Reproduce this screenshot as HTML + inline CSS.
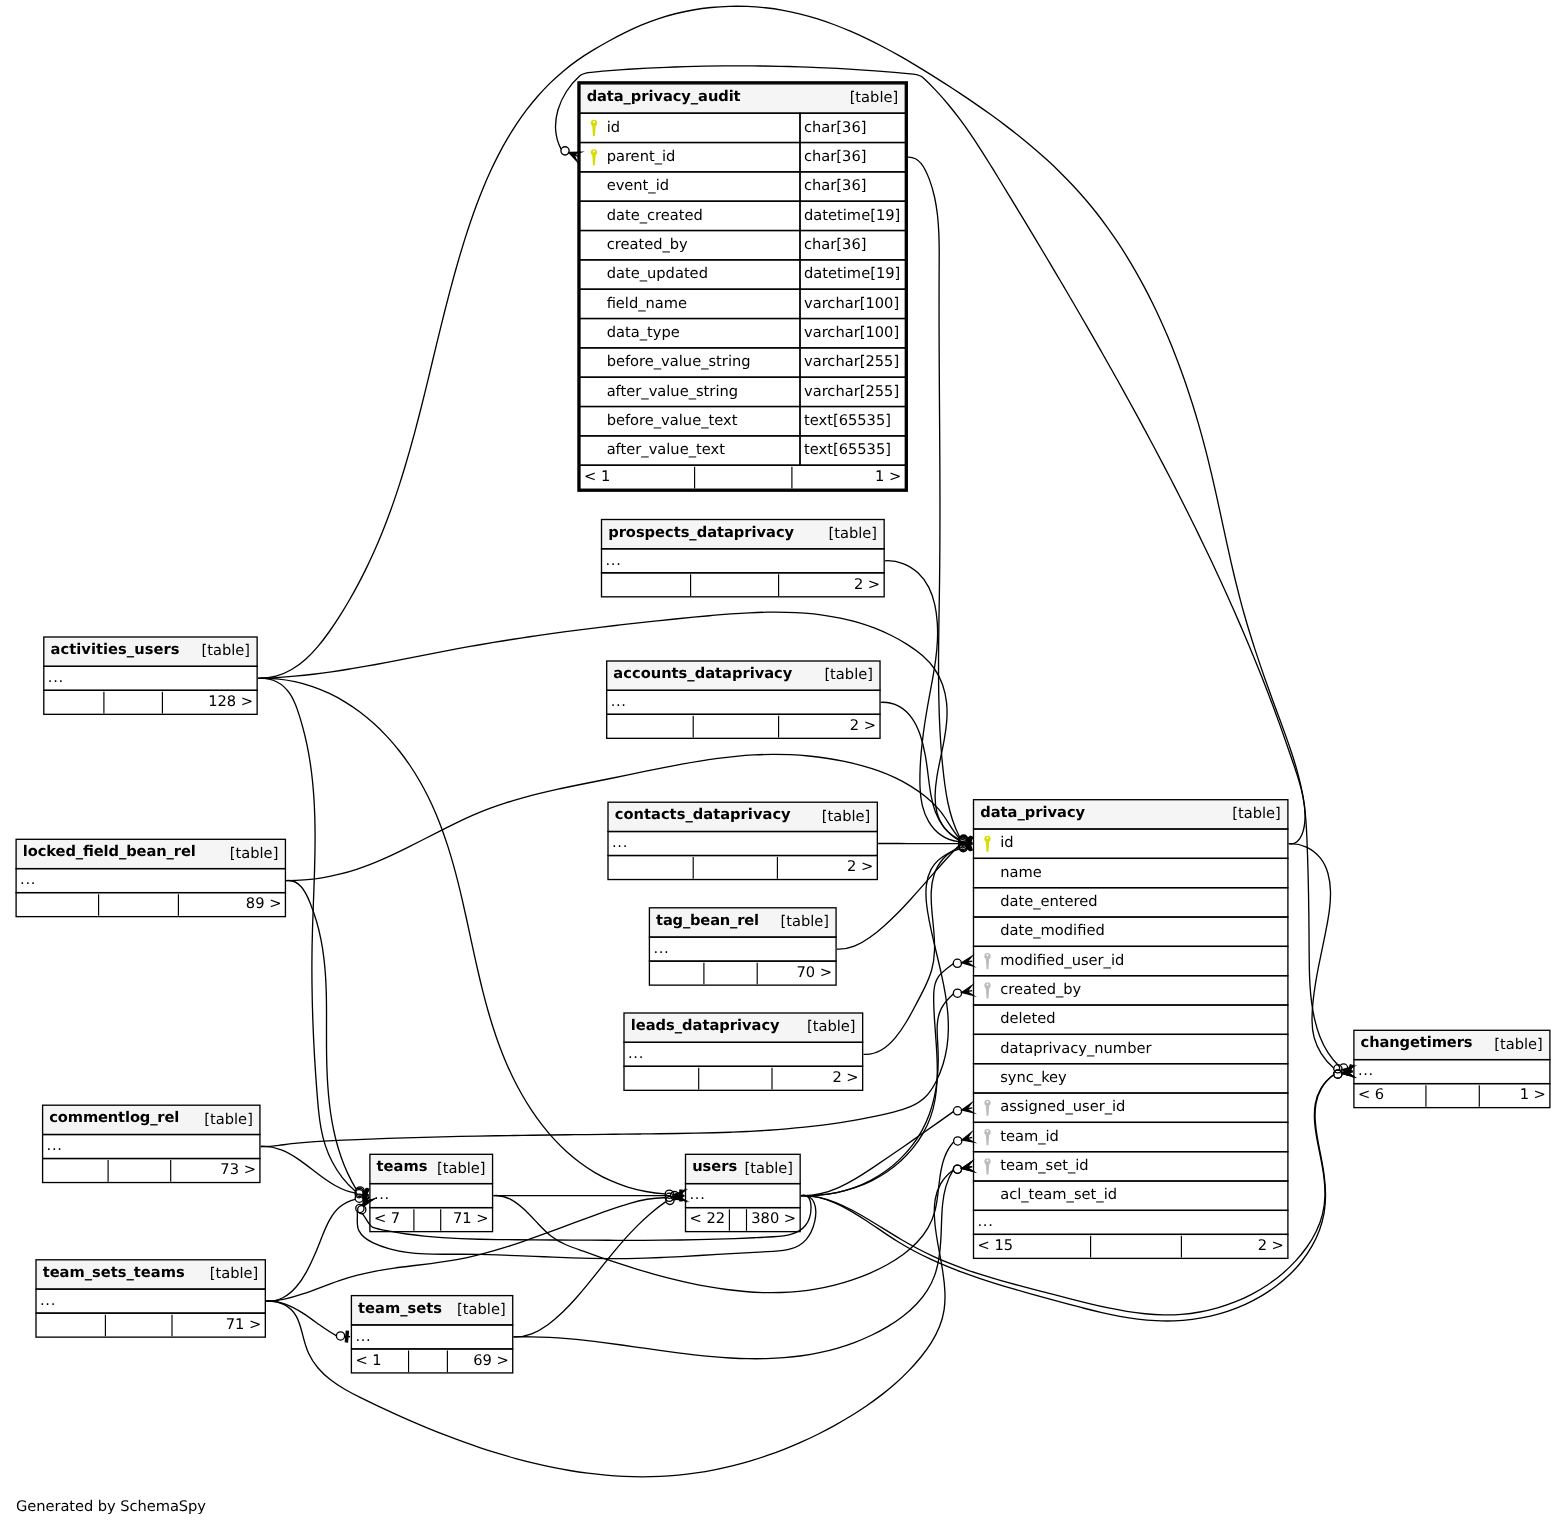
<!DOCTYPE html>
<html lang="en"><head><meta charset="utf-8"><title>data_privacy_audit relationships</title>
<style>html,body{margin:0;padding:0;background:#fff}svg{display:block;will-change:transform}</style></head>
<body>
<svg width="1565" height="1526" viewBox="0 0 1565 1526" font-family="'DejaVu Sans','Liberation Sans',sans-serif" font-size="14.67" fill="#000" text-rendering="geometricPrecision">
<rect x="577.3" y="81.2" width="330.67" height="410.67" fill="#fff" stroke="none" stroke-width="1.33"/>
<rect x="578.63" y="82.53" width="328" height="408" fill="none" stroke="#000" stroke-width="2.67"/>
<rect x="579.97" y="83.87" width="325.33" height="29.33" fill="#f5f5f5" stroke="#000" stroke-width="1.33"/>
<text x="586.63" y="100.93" textLength="154" font-weight="bold">data_privacy_audit</text>
<text x="898.23" y="102.27" text-anchor="end">[table]</text>
<rect x="579.97" y="113.2" width="220.03" height="29.33" fill="none" stroke="#000" stroke-width="1.33"/>
<rect x="800" y="113.2" width="105.3" height="29.33" fill="none" stroke="#000" stroke-width="1.33"/>
<text x="804" y="131.6">char[36]</text>
<text x="606.63" y="131.6">id</text>
<g fill="#d6dd00"><circle cx="593.97" cy="122.97" r="3.15"/><path d="M592.27 124.97L595.67 124.97L594.97 135.97L592.97 135.97Z"/></g><circle cx="593.97" cy="122.07" r="1.0" fill="#fff"/>
<rect x="579.97" y="142.53" width="220.03" height="29.33" fill="none" stroke="#000" stroke-width="1.33"/>
<rect x="800" y="142.53" width="105.3" height="29.33" fill="none" stroke="#000" stroke-width="1.33"/>
<text x="804" y="160.93">char[36]</text>
<text x="606.63" y="160.93">parent_id</text>
<g fill="#d6dd00"><circle cx="593.97" cy="152.3" r="3.15"/><path d="M592.27 154.3L595.67 154.3L594.97 165.3L592.97 165.3Z"/></g><circle cx="593.97" cy="151.4" r="1.0" fill="#fff"/>
<rect x="579.97" y="171.87" width="220.03" height="29.33" fill="none" stroke="#000" stroke-width="1.33"/>
<rect x="800" y="171.87" width="105.3" height="29.33" fill="none" stroke="#000" stroke-width="1.33"/>
<text x="804" y="190.27">char[36]</text>
<text x="606.63" y="190.27">event_id</text>
<rect x="579.97" y="201.2" width="220.03" height="29.33" fill="none" stroke="#000" stroke-width="1.33"/>
<rect x="800" y="201.2" width="105.3" height="29.33" fill="none" stroke="#000" stroke-width="1.33"/>
<text x="804" y="219.6">datetime[19]</text>
<text x="606.63" y="219.6">date_created</text>
<rect x="579.97" y="230.53" width="220.03" height="29.33" fill="none" stroke="#000" stroke-width="1.33"/>
<rect x="800" y="230.53" width="105.3" height="29.33" fill="none" stroke="#000" stroke-width="1.33"/>
<text x="804" y="248.93">char[36]</text>
<text x="606.63" y="248.93">created_by</text>
<rect x="579.97" y="259.87" width="220.03" height="29.33" fill="none" stroke="#000" stroke-width="1.33"/>
<rect x="800" y="259.87" width="105.3" height="29.33" fill="none" stroke="#000" stroke-width="1.33"/>
<text x="804" y="278.27">datetime[19]</text>
<text x="606.63" y="278.27">date_updated</text>
<rect x="579.97" y="289.2" width="220.03" height="29.33" fill="none" stroke="#000" stroke-width="1.33"/>
<rect x="800" y="289.2" width="105.3" height="29.33" fill="none" stroke="#000" stroke-width="1.33"/>
<text x="804" y="307.6">varchar[100]</text>
<text x="606.63" y="307.6">field_name</text>
<rect x="579.97" y="318.53" width="220.03" height="29.33" fill="none" stroke="#000" stroke-width="1.33"/>
<rect x="800" y="318.53" width="105.3" height="29.33" fill="none" stroke="#000" stroke-width="1.33"/>
<text x="804" y="336.93">varchar[100]</text>
<text x="606.63" y="336.93">data_type</text>
<rect x="579.97" y="347.87" width="220.03" height="29.33" fill="none" stroke="#000" stroke-width="1.33"/>
<rect x="800" y="347.87" width="105.3" height="29.33" fill="none" stroke="#000" stroke-width="1.33"/>
<text x="804" y="366.27">varchar[255]</text>
<text x="606.63" y="366.27">before_value_string</text>
<rect x="579.97" y="377.2" width="220.03" height="29.33" fill="none" stroke="#000" stroke-width="1.33"/>
<rect x="800" y="377.2" width="105.3" height="29.33" fill="none" stroke="#000" stroke-width="1.33"/>
<text x="804" y="395.6">varchar[255]</text>
<text x="606.63" y="395.6">after_value_string</text>
<rect x="579.97" y="406.53" width="220.03" height="29.33" fill="none" stroke="#000" stroke-width="1.33"/>
<rect x="800" y="406.53" width="105.3" height="29.33" fill="none" stroke="#000" stroke-width="1.33"/>
<text x="804" y="424.93">text[65535]</text>
<text x="606.63" y="424.93">before_value_text</text>
<rect x="579.97" y="435.87" width="220.03" height="29.33" fill="none" stroke="#000" stroke-width="1.33"/>
<rect x="800" y="435.87" width="105.3" height="29.33" fill="none" stroke="#000" stroke-width="1.33"/>
<text x="804" y="454.27">text[65535]</text>
<text x="606.63" y="454.27">after_value_text</text>
<rect x="579.97" y="465.2" width="325.33" height="24" fill="none" stroke="#000" stroke-width="1.33"/>
<path d="M694.6 466.7V488.4" stroke="#000" stroke-width="1.15" fill="none"/>
<path d="M791.9 466.7V488.4" stroke="#000" stroke-width="1.15" fill="none"/>
<text x="583.97" y="480.93">&lt; 1</text>
<text x="901.3" y="480.93" text-anchor="end">1 &gt;</text>
<rect x="973.5" y="799.7" width="314.4" height="458.67" fill="#fff" stroke="none" stroke-width="1.33"/>
<rect x="973.5" y="799.7" width="314.4" height="29.33" fill="#f5f5f5" stroke="#000" stroke-width="1.33"/>
<text x="980.17" y="816.77" textLength="105" font-weight="bold">data_privacy</text>
<text x="1280.83" y="818.1" text-anchor="end">[table]</text>
<rect x="973.5" y="829.03" width="314.4" height="29.33" fill="none" stroke="#000" stroke-width="1.33"/>
<text x="1000.17" y="847.43">id</text>
<g fill="#d6dd00"><circle cx="987.5" cy="838.8" r="3.15"/><path d="M985.8 840.8L989.2 840.8L988.5 851.8L986.5 851.8Z"/></g><circle cx="987.5" cy="837.9" r="1.0" fill="#fff"/>
<rect x="973.5" y="858.37" width="314.4" height="29.33" fill="none" stroke="#000" stroke-width="1.33"/>
<text x="1000.17" y="876.77">name</text>
<rect x="973.5" y="887.7" width="314.4" height="29.33" fill="none" stroke="#000" stroke-width="1.33"/>
<text x="1000.17" y="906.1">date_entered</text>
<rect x="973.5" y="917.03" width="314.4" height="29.33" fill="none" stroke="#000" stroke-width="1.33"/>
<text x="1000.17" y="935.43">date_modified</text>
<rect x="973.5" y="946.37" width="314.4" height="29.33" fill="none" stroke="#000" stroke-width="1.33"/>
<text x="1000.17" y="964.77">modified_user_id</text>
<g fill="#bdbdbd"><circle cx="987.5" cy="956.13" r="3.15"/><path d="M985.8 958.13L989.2 958.13L988.5 969.13L986.5 969.13Z"/></g><circle cx="987.5" cy="955.23" r="1.0" fill="#fff"/>
<rect x="973.5" y="975.7" width="314.4" height="29.33" fill="none" stroke="#000" stroke-width="1.33"/>
<text x="1000.17" y="994.1">created_by</text>
<g fill="#bdbdbd"><circle cx="987.5" cy="985.47" r="3.15"/><path d="M985.8 987.47L989.2 987.47L988.5 998.47L986.5 998.47Z"/></g><circle cx="987.5" cy="984.57" r="1.0" fill="#fff"/>
<rect x="973.5" y="1005.03" width="314.4" height="29.33" fill="none" stroke="#000" stroke-width="1.33"/>
<text x="1000.17" y="1023.43">deleted</text>
<rect x="973.5" y="1034.37" width="314.4" height="29.33" fill="none" stroke="#000" stroke-width="1.33"/>
<text x="1000.17" y="1052.77">dataprivacy_number</text>
<rect x="973.5" y="1063.7" width="314.4" height="29.33" fill="none" stroke="#000" stroke-width="1.33"/>
<text x="1000.17" y="1082.1">sync_key</text>
<rect x="973.5" y="1093.03" width="314.4" height="29.33" fill="none" stroke="#000" stroke-width="1.33"/>
<text x="1000.17" y="1111.43">assigned_user_id</text>
<g fill="#bdbdbd"><circle cx="987.5" cy="1102.8" r="3.15"/><path d="M985.8 1104.8L989.2 1104.8L988.5 1115.8L986.5 1115.8Z"/></g><circle cx="987.5" cy="1101.9" r="1.0" fill="#fff"/>
<rect x="973.5" y="1122.37" width="314.4" height="29.33" fill="none" stroke="#000" stroke-width="1.33"/>
<text x="1000.17" y="1140.77">team_id</text>
<g fill="#bdbdbd"><circle cx="987.5" cy="1132.13" r="3.15"/><path d="M985.8 1134.13L989.2 1134.13L988.5 1145.13L986.5 1145.13Z"/></g><circle cx="987.5" cy="1131.23" r="1.0" fill="#fff"/>
<rect x="973.5" y="1151.7" width="314.4" height="29.33" fill="none" stroke="#000" stroke-width="1.33"/>
<text x="1000.17" y="1170.1">team_set_id</text>
<g fill="#bdbdbd"><circle cx="987.5" cy="1161.47" r="3.15"/><path d="M985.8 1163.47L989.2 1163.47L988.5 1174.47L986.5 1174.47Z"/></g><circle cx="987.5" cy="1160.57" r="1.0" fill="#fff"/>
<rect x="973.5" y="1181.03" width="314.4" height="29.33" fill="none" stroke="#000" stroke-width="1.33"/>
<text x="1000.17" y="1199.43">acl_team_set_id</text>
<rect x="973.5" y="1210.37" width="314.4" height="24" fill="none" stroke="#000" stroke-width="1.33"/>
<text x="977.5" y="1226.1" letter-spacing="0.67">...</text>
<rect x="973.5" y="1234.37" width="314.4" height="24" fill="none" stroke="#000" stroke-width="1.33"/>
<path d="M1090.6 1235.87V1257.57" stroke="#000" stroke-width="1.15" fill="none"/>
<path d="M1181.4 1235.87V1257.57" stroke="#000" stroke-width="1.15" fill="none"/>
<text x="977.5" y="1250.1">&lt; 15</text>
<text x="1283.9" y="1250.1" text-anchor="end">2 &gt;</text>
<rect x="601.5" y="519.5" width="282.67" height="77.33" fill="#fff" stroke="none" stroke-width="1.33"/>
<rect x="601.5" y="519.5" width="282.67" height="29.33" fill="#f5f5f5" stroke="#000" stroke-width="1.33"/>
<text x="608.17" y="536.57" textLength="186" font-weight="bold">prospects_dataprivacy</text>
<text x="877.1" y="537.9" text-anchor="end">[table]</text>
<rect x="601.5" y="548.83" width="282.67" height="24" fill="none" stroke="#000" stroke-width="1.33"/>
<text x="605.5" y="564.57" letter-spacing="0.67">...</text>
<rect x="601.5" y="572.83" width="282.67" height="24" fill="none" stroke="#000" stroke-width="1.33"/>
<path d="M690.6 574.33V596.03" stroke="#000" stroke-width="1.15" fill="none"/>
<path d="M778.6 574.33V596.03" stroke="#000" stroke-width="1.15" fill="none"/>
<text x="880.17" y="588.57" text-anchor="end">2 &gt;</text>
<rect x="606.7" y="661" width="273.33" height="77.33" fill="#fff" stroke="none" stroke-width="1.33"/>
<rect x="606.7" y="661" width="273.33" height="29.33" fill="#f5f5f5" stroke="#000" stroke-width="1.33"/>
<text x="613.37" y="678.07" textLength="179" font-weight="bold">accounts_dataprivacy</text>
<text x="872.97" y="679.4" text-anchor="end">[table]</text>
<rect x="606.7" y="690.33" width="273.33" height="24" fill="none" stroke="#000" stroke-width="1.33"/>
<text x="610.7" y="706.07" letter-spacing="0.67">...</text>
<rect x="606.7" y="714.33" width="273.33" height="24" fill="none" stroke="#000" stroke-width="1.33"/>
<path d="M693.2 715.83V737.53" stroke="#000" stroke-width="1.15" fill="none"/>
<path d="M778.6 715.83V737.53" stroke="#000" stroke-width="1.15" fill="none"/>
<text x="876.03" y="730.07" text-anchor="end">2 &gt;</text>
<rect x="608" y="802.2" width="269.33" height="77.33" fill="#fff" stroke="none" stroke-width="1.33"/>
<rect x="608" y="802.2" width="269.33" height="29.33" fill="#f5f5f5" stroke="#000" stroke-width="1.33"/>
<text x="614.67" y="819.27" textLength="176" font-weight="bold">contacts_dataprivacy</text>
<text x="870.27" y="820.6" text-anchor="end">[table]</text>
<rect x="608" y="831.53" width="269.33" height="24" fill="none" stroke="#000" stroke-width="1.33"/>
<text x="612" y="847.27" letter-spacing="0.67">...</text>
<rect x="608" y="855.53" width="269.33" height="24" fill="none" stroke="#000" stroke-width="1.33"/>
<path d="M693.2 857.03V878.73" stroke="#000" stroke-width="1.15" fill="none"/>
<path d="M777.4 857.03V878.73" stroke="#000" stroke-width="1.15" fill="none"/>
<text x="873.33" y="871.27" text-anchor="end">2 &gt;</text>
<rect x="649.4" y="907.8" width="186.67" height="77.33" fill="#fff" stroke="none" stroke-width="1.33"/>
<rect x="649.4" y="907.8" width="186.67" height="29.33" fill="#f5f5f5" stroke="#000" stroke-width="1.33"/>
<text x="656.07" y="924.87" textLength="103" font-weight="bold">tag_bean_rel</text>
<text x="829" y="926.2" text-anchor="end">[table]</text>
<rect x="649.4" y="937.13" width="186.67" height="24" fill="none" stroke="#000" stroke-width="1.33"/>
<text x="653.4" y="952.87" letter-spacing="0.67">...</text>
<rect x="649.4" y="961.13" width="186.67" height="24" fill="none" stroke="#000" stroke-width="1.33"/>
<path d="M703.9 962.63V984.33" stroke="#000" stroke-width="1.15" fill="none"/>
<path d="M757.2 962.63V984.33" stroke="#000" stroke-width="1.15" fill="none"/>
<text x="832.07" y="976.87" text-anchor="end">70 &gt;</text>
<rect x="624" y="1013" width="238.67" height="77.33" fill="#fff" stroke="none" stroke-width="1.33"/>
<rect x="624" y="1013" width="238.67" height="29.33" fill="#f5f5f5" stroke="#000" stroke-width="1.33"/>
<text x="630.67" y="1030.07" textLength="149" font-weight="bold">leads_dataprivacy</text>
<text x="855.6" y="1031.4" text-anchor="end">[table]</text>
<rect x="624" y="1042.33" width="238.67" height="24" fill="none" stroke="#000" stroke-width="1.33"/>
<text x="628" y="1058.07" letter-spacing="0.67">...</text>
<rect x="624" y="1066.33" width="238.67" height="24" fill="none" stroke="#000" stroke-width="1.33"/>
<path d="M698.7 1067.83V1089.53" stroke="#000" stroke-width="1.15" fill="none"/>
<path d="M772 1067.83V1089.53" stroke="#000" stroke-width="1.15" fill="none"/>
<text x="858.67" y="1082.07" text-anchor="end">2 &gt;</text>
<rect x="43.8" y="637" width="213.33" height="77.33" fill="#fff" stroke="none" stroke-width="1.33"/>
<rect x="43.8" y="637" width="213.33" height="29.33" fill="#f5f5f5" stroke="#000" stroke-width="1.33"/>
<text x="50.47" y="654.07" textLength="129" font-weight="bold">activities_users</text>
<text x="250.07" y="655.4" text-anchor="end">[table]</text>
<rect x="43.8" y="666.33" width="213.33" height="24" fill="none" stroke="#000" stroke-width="1.33"/>
<text x="47.8" y="682.07" letter-spacing="0.67">...</text>
<rect x="43.8" y="690.33" width="213.33" height="24" fill="none" stroke="#000" stroke-width="1.33"/>
<path d="M103.9 691.83V713.53" stroke="#000" stroke-width="1.15" fill="none"/>
<path d="M162.4 691.83V713.53" stroke="#000" stroke-width="1.15" fill="none"/>
<text x="253.13" y="706.07" text-anchor="end">128 &gt;</text>
<rect x="16.1" y="839.3" width="269.33" height="77.33" fill="#fff" stroke="none" stroke-width="1.33"/>
<rect x="16.1" y="839.3" width="269.33" height="29.33" fill="#f5f5f5" stroke="#000" stroke-width="1.33"/>
<text x="22.77" y="856.37" textLength="173" font-weight="bold">locked_field_bean_rel</text>
<text x="278.37" y="857.7" text-anchor="end">[table]</text>
<rect x="16.1" y="868.63" width="269.33" height="24" fill="none" stroke="#000" stroke-width="1.33"/>
<text x="20.1" y="884.37" letter-spacing="0.67">...</text>
<rect x="16.1" y="892.63" width="269.33" height="24" fill="none" stroke="#000" stroke-width="1.33"/>
<path d="M98.6 894.13V915.83" stroke="#000" stroke-width="1.15" fill="none"/>
<path d="M178.4 894.13V915.83" stroke="#000" stroke-width="1.15" fill="none"/>
<text x="281.43" y="908.37" text-anchor="end">89 &gt;</text>
<rect x="42.6" y="1105.2" width="217.33" height="77.33" fill="#fff" stroke="none" stroke-width="1.33"/>
<rect x="42.6" y="1105.2" width="217.33" height="29.33" fill="#f5f5f5" stroke="#000" stroke-width="1.33"/>
<text x="49.27" y="1122.27" textLength="130" font-weight="bold">commentlog_rel</text>
<text x="252.87" y="1123.6" text-anchor="end">[table]</text>
<rect x="42.6" y="1134.53" width="217.33" height="24" fill="none" stroke="#000" stroke-width="1.33"/>
<text x="46.6" y="1150.27" letter-spacing="0.67">...</text>
<rect x="42.6" y="1158.53" width="217.33" height="24" fill="none" stroke="#000" stroke-width="1.33"/>
<path d="M108.1 1160.03V1181.73" stroke="#000" stroke-width="1.15" fill="none"/>
<path d="M170.7 1160.03V1181.73" stroke="#000" stroke-width="1.15" fill="none"/>
<text x="255.93" y="1174.27" text-anchor="end">73 &gt;</text>
<rect x="36" y="1259.8" width="229.33" height="77.33" fill="#fff" stroke="none" stroke-width="1.33"/>
<rect x="36" y="1259.8" width="229.33" height="29.33" fill="#f5f5f5" stroke="#000" stroke-width="1.33"/>
<text x="42.67" y="1276.87" textLength="142" font-weight="bold">team_sets_teams</text>
<text x="258.27" y="1278.2" text-anchor="end">[table]</text>
<rect x="36" y="1289.13" width="229.33" height="24" fill="none" stroke="#000" stroke-width="1.33"/>
<text x="40" y="1304.87" letter-spacing="0.67">...</text>
<rect x="36" y="1313.13" width="229.33" height="24" fill="none" stroke="#000" stroke-width="1.33"/>
<path d="M105.4 1314.63V1336.33" stroke="#000" stroke-width="1.15" fill="none"/>
<path d="M172 1314.63V1336.33" stroke="#000" stroke-width="1.15" fill="none"/>
<text x="261.33" y="1328.87" text-anchor="end">71 &gt;</text>
<rect x="369.9" y="1154.3" width="122.67" height="77.33" fill="#fff" stroke="none" stroke-width="1.33"/>
<rect x="369.9" y="1154.3" width="122.67" height="29.33" fill="#f5f5f5" stroke="#000" stroke-width="1.33"/>
<text x="376.57" y="1171.37" textLength="51" font-weight="bold">teams</text>
<text x="485.5" y="1172.7" text-anchor="end">[table]</text>
<rect x="369.9" y="1183.63" width="122.67" height="24" fill="none" stroke="#000" stroke-width="1.33"/>
<text x="373.9" y="1199.37" letter-spacing="0.67">...</text>
<rect x="369.9" y="1207.63" width="122.67" height="24" fill="none" stroke="#000" stroke-width="1.33"/>
<path d="M413.9 1209.13V1230.83" stroke="#000" stroke-width="1.15" fill="none"/>
<path d="M440.7 1209.13V1230.83" stroke="#000" stroke-width="1.15" fill="none"/>
<text x="373.9" y="1223.37">&lt; 7</text>
<text x="488.57" y="1223.37" text-anchor="end">71 &gt;</text>
<rect x="351.4" y="1295.6" width="161.33" height="77.33" fill="#fff" stroke="none" stroke-width="1.33"/>
<rect x="351.4" y="1295.6" width="161.33" height="29.33" fill="#f5f5f5" stroke="#000" stroke-width="1.33"/>
<text x="358.07" y="1312.67" textLength="84" font-weight="bold">team_sets</text>
<text x="505.67" y="1314" text-anchor="end">[table]</text>
<rect x="351.4" y="1324.93" width="161.33" height="24" fill="none" stroke="#000" stroke-width="1.33"/>
<text x="355.4" y="1340.67" letter-spacing="0.67">...</text>
<rect x="351.4" y="1348.93" width="161.33" height="24" fill="none" stroke="#000" stroke-width="1.33"/>
<path d="M408.55 1350.43V1372.13" stroke="#000" stroke-width="1.15" fill="none"/>
<path d="M447.4 1350.43V1372.13" stroke="#000" stroke-width="1.15" fill="none"/>
<text x="355.4" y="1364.67">&lt; 1</text>
<text x="508.73" y="1364.67" text-anchor="end">69 &gt;</text>
<rect x="685.5" y="1154.3" width="114.67" height="77.33" fill="#fff" stroke="none" stroke-width="1.33"/>
<rect x="685.5" y="1154.3" width="114.67" height="29.33" fill="#f5f5f5" stroke="#000" stroke-width="1.33"/>
<text x="692.17" y="1171.37" textLength="45" font-weight="bold">users</text>
<text x="793.1" y="1172.7" text-anchor="end">[table]</text>
<rect x="685.5" y="1183.63" width="114.67" height="24" fill="none" stroke="#000" stroke-width="1.33"/>
<text x="689.5" y="1199.37" letter-spacing="0.67">...</text>
<rect x="685.5" y="1207.63" width="114.67" height="24" fill="none" stroke="#000" stroke-width="1.33"/>
<path d="M729.4 1209.13V1230.83" stroke="#000" stroke-width="1.15" fill="none"/>
<path d="M746.5 1209.13V1230.83" stroke="#000" stroke-width="1.15" fill="none"/>
<text x="689.5" y="1223.37">&lt; 22</text>
<text x="796.17" y="1223.37" text-anchor="end">380 &gt;</text>
<rect x="1353.9" y="1030.3" width="196" height="77.33" fill="#fff" stroke="none" stroke-width="1.33"/>
<rect x="1353.9" y="1030.3" width="196" height="29.33" fill="#f5f5f5" stroke="#000" stroke-width="1.33"/>
<text x="1360.57" y="1047.37" textLength="112" font-weight="bold">changetimers</text>
<text x="1542.83" y="1048.7" text-anchor="end">[table]</text>
<rect x="1353.9" y="1059.63" width="196" height="24" fill="none" stroke="#000" stroke-width="1.33"/>
<text x="1357.9" y="1075.37" letter-spacing="0.67">...</text>
<rect x="1353.9" y="1083.63" width="196" height="24" fill="none" stroke="#000" stroke-width="1.33"/>
<path d="M1425.95 1085.13V1106.83" stroke="#000" stroke-width="1.15" fill="none"/>
<path d="M1479.3 1085.13V1106.83" stroke="#000" stroke-width="1.15" fill="none"/>
<text x="1357.9" y="1099.37">&lt; 6</text>
<text x="1545.9" y="1099.37" text-anchor="end">1 &gt;</text>
<path d="M966.17 846.17L970.68 836.5L972.62 837.4L968.11 847.07Z" fill="#000" stroke="#000" stroke-width="1.33"/>
<path d="M967.46 840.88L972.29 843.14" stroke="#000" stroke-width="1.33"/>
<circle cx="963.59" cy="839.08" r="4.12" fill="none" stroke="#000" stroke-width="1.33"/>
<path d="M906.5 157.2C913.01 156.45 917.67 159.2 921.22 163.6C924.78 168 927.29 173.88 929.44 179.63C931.58 185.37 933.27 191.26 934.58 197.24C935.9 203.23 936.85 209.32 937.53 215.48C938.21 221.64 938.62 227.87 938.87 234.14C939.12 240.41 939.2 246.71 939.21 253.02C939.22 259.33 939.17 265.64 939.13 271.92C939.1 278.2 939.08 284.46 939.07 290.7C939.06 296.93 939.05 303.15 939.06 309.35C939.06 315.55 939.07 321.72 939.08 327.89C939.1 334.05 939.12 340.2 939.15 346.33C939.17 352.46 939.2 358.58 939.23 364.68C939.27 370.79 939.3 376.88 939.34 382.96C939.38 389.05 939.42 395.12 939.46 401.18C939.5 407.25 939.54 413.31 939.58 419.36C939.62 425.41 939.66 431.45 939.7 437.5C939.74 443.54 939.77 449.58 939.8 455.61C939.84 461.65 939.86 467.69 939.89 473.72C939.91 479.76 939.93 485.8 939.94 491.84C939.96 497.88 939.96 503.92 939.96 509.97C939.96 516.02 939.96 522.07 939.94 528.13C939.92 534.19 939.9 540.26 939.86 546.34C939.83 552.41 939.78 558.5 939.73 564.6C939.67 570.7 939.61 576.81 939.53 582.93C939.45 589.06 939.35 595.2 939.26 601.34C939.16 607.49 939.06 613.65 938.96 619.82C938.87 625.98 938.78 632.15 938.71 638.32C938.63 644.5 938.58 650.67 938.54 656.85C938.51 663.02 938.5 669.19 938.53 675.35C938.56 681.52 938.62 687.68 938.73 693.82C938.83 699.97 938.98 706.11 939.19 712.23C939.39 718.36 939.65 724.46 939.97 730.55C940.3 736.64 940.68 742.72 941.14 748.77C941.6 754.81 942.13 760.84 942.75 766.84C943.37 772.84 944.05 778.81 944.86 784.76C945.67 790.7 946.62 796.61 947.84 802.49C949.07 808.36 950.58 814.21 952.52 820.01C954.46 825.81 956.8 831.56 959.73 837.28" fill="none" stroke="#000" stroke-width="1.33"/>
<path d="M967.22 848.2L968.7 837.64L970.81 837.94L969.33 848.5Z" fill="#000" stroke="#000" stroke-width="1.33"/>
<path d="M966.9 842.77L972.18 843.51" stroke="#000" stroke-width="1.33"/>
<circle cx="962.68" cy="842.18" r="4.12" fill="none" stroke="#000" stroke-width="1.33"/>
<path d="M885 560.8C891.26 560.34 897.34 561.37 902.97 563.51C908.61 565.65 913.78 568.93 918.18 573.01C922.57 577.1 926.11 582 928.81 587.38C931.52 592.77 933.43 598.64 934.78 604.68C936.12 610.71 936.9 616.89 937.3 622.96C937.7 629.04 937.69 635.07 937.4 641.08C937.1 647.09 936.5 653.08 935.72 659.08C934.93 665.09 933.96 671.09 932.89 677.14C931.83 683.18 930.67 689.26 929.54 695.39C928.4 701.53 927.29 707.74 926.25 713.99C925.22 720.24 924.26 726.53 923.42 732.82C922.58 739.11 921.85 745.39 921.28 751.63C920.71 757.87 920.3 764.06 920.08 770.17C919.86 776.27 919.81 782.29 920.07 788.17C920.33 794.06 920.95 799.81 922.28 805.39C923.6 810.97 925.67 816.43 928.72 821.54C931.76 826.64 935.75 831.3 940.71 834.84C945.67 838.38 951.52 840.86 958.45 841.59" fill="none" stroke="#000" stroke-width="1.33"/>
<path d="M966.85 847.64L969.25 837.24L971.33 837.72L968.93 848.12Z" fill="#000" stroke="#000" stroke-width="1.33"/>
<path d="M967.01 842.2L972.2 843.4" stroke="#000" stroke-width="1.33"/>
<circle cx="962.85" cy="841.24" r="4.12" fill="none" stroke="#000" stroke-width="1.33"/>
<path d="M880.8 702.3C887.46 701.97 893.4 703.34 898.59 706.09C903.78 708.83 908.18 712.89 911.73 717.85C915.29 722.8 918.04 728.65 920.21 734.96C922.38 741.27 923.97 748.04 925.2 754.83C926.44 761.63 927.3 768.41 928.1 774.99C928.91 781.57 929.68 787.98 930.76 794.13C931.84 800.29 933.24 806.19 935.32 811.75C937.39 817.32 940.14 822.54 943.93 827.34C947.72 832.15 952.48 836.49 958.69 840.28" fill="none" stroke="#000" stroke-width="1.33"/>
<path d="M967.9 849.03L967.9 838.37L970.04 838.37L970.04 849.03Z" fill="#000" stroke="#000" stroke-width="1.33"/>
<path d="M966.84 843.7L972.17 843.7" stroke="#000" stroke-width="1.33"/>
<circle cx="962.57" cy="843.7" r="4.12" fill="none" stroke="#000" stroke-width="1.33"/>
<path d="M878.1 843.5C884.78 843.5 891.47 843.51 898.15 843.52C904.83 843.54 911.52 843.56 918.2 843.59C924.89 843.61 931.57 843.64 938.25 843.66C944.94 843.68 951.62 843.7 958.3 843.7" fill="none" stroke="#000" stroke-width="1.33"/>
<path d="M968.81 849.84L967.14 839.31L969.24 838.97L970.91 849.51Z" fill="#000" stroke="#000" stroke-width="1.33"/>
<path d="M966.92 844.74L972.19 843.91" stroke="#000" stroke-width="1.33"/>
<circle cx="962.7" cy="845.41" r="4.12" fill="none" stroke="#000" stroke-width="1.33"/>
<path d="M836.9 949.1C843.04 949.47 848.84 948.32 854.34 946.18C859.84 944.03 865.05 940.89 870.04 937.3C875.02 933.71 879.79 929.72 884.38 925.64C888.98 921.55 893.4 917.31 897.7 912.96C902 908.62 906.18 904.18 910.27 899.69C914.36 895.21 918.38 890.68 922.36 886.16C926.34 881.65 930.28 877.14 934.23 872.66C938.19 868.17 942.15 863.7 946.17 859.25C950.19 854.81 954.31 850.44 958.49 846.08" fill="none" stroke="#000" stroke-width="1.33"/>
<path d="M969.47 850.3L966.71 840L968.77 839.44L971.54 849.75Z" fill="#000" stroke="#000" stroke-width="1.33"/>
<path d="M967.06 845.42L972.22 844.04" stroke="#000" stroke-width="1.33"/>
<circle cx="962.94" cy="846.53" r="4.12" fill="none" stroke="#000" stroke-width="1.33"/>
<path d="M863.5 1054.3C870.1 1054.81 876.04 1053.11 881.33 1050.03C886.61 1046.95 891.25 1042.51 895.37 1037.58C899.49 1032.65 903.05 1027.34 906.29 1021.99C909.53 1016.64 912.47 1011.15 915.43 1005.51C918.39 999.87 921.5 994.08 924.4 988.14C927.31 982.19 929.93 976.08 931.71 969.8C933.48 963.52 934.3 957.05 934.51 950.5C934.73 943.95 934.35 937.31 933.78 930.69C933.21 924.08 932.45 917.48 931.89 911C931.34 904.53 930.98 898.17 931.23 892.04C931.48 885.91 932.33 880.01 934.17 874.44C936.02 868.87 938.91 863.57 942.99 858.95C947.08 854.33 952.28 850.4 958.82 847.63" fill="none" stroke="#000" stroke-width="1.33"/>
<path d="M966.59 847.16L969.71 836.96L971.75 837.59L968.63 847.79Z" fill="#000" stroke="#000" stroke-width="1.33"/>
<path d="M967.13 841.75L972.23 843.31" stroke="#000" stroke-width="1.33"/>
<circle cx="963.05" cy="840.5" r="4.12" fill="none" stroke="#000" stroke-width="1.33"/>
<path d="M258.2 678.3C264.35 678.15 270.48 677.95 276.6 677.58C282.73 677.21 288.84 676.74 294.95 676.18C301.05 675.61 307.14 674.96 313.21 674.23C319.29 673.5 325.36 672.69 331.42 671.82C337.48 670.95 343.53 670.02 349.57 669.03C355.61 668.05 361.64 667.01 367.67 665.94C373.7 664.87 379.71 663.76 385.73 662.62C391.74 661.49 397.75 660.33 403.75 659.17C409.76 658 415.75 656.82 421.75 655.64C427.75 654.47 433.74 653.29 439.73 652.14C445.72 650.98 451.71 649.84 457.7 648.72C463.69 647.61 469.67 646.53 475.66 645.48C481.65 644.43 487.64 643.4 493.63 642.41C499.62 641.41 505.61 640.44 511.61 639.5C517.6 638.56 523.6 637.64 529.6 636.75C535.61 635.86 541.61 634.99 547.63 634.14C553.64 633.29 559.66 632.47 565.69 631.67C571.71 630.86 577.74 630.08 583.78 629.31C589.82 628.55 595.87 627.8 601.93 627.07C607.99 626.35 614.06 625.63 620.13 624.94C626.21 624.24 632.3 623.56 638.4 622.89C644.5 622.22 650.61 621.57 656.74 620.92C662.87 620.28 669 619.65 675.16 619.03C681.31 618.41 687.48 617.79 693.66 617.19C699.84 616.59 706.04 616 712.24 615.45C718.44 614.9 724.65 614.39 730.85 613.94C737.06 613.49 743.26 613.1 749.45 612.81C755.64 612.51 761.81 612.3 767.97 612.21C774.13 612.12 780.26 612.14 786.37 612.29C792.48 612.45 798.56 612.75 804.6 613.21C810.65 613.67 816.65 614.29 822.61 615.1C828.57 615.92 834.49 616.92 840.35 618.13C846.21 619.35 852.01 620.78 857.76 622.44C863.5 624.11 869.18 626.02 874.79 628.18C880.4 630.35 885.94 632.79 891.4 635.51C896.86 638.23 902.27 641.24 907.52 644.57C912.77 647.9 917.84 651.56 922.44 655.61C927.05 659.66 931.19 664.1 934.61 669C938.02 673.9 940.69 679.27 942.66 684.93C944.63 690.59 945.9 696.53 946.55 702.57C947.19 708.62 947.19 714.73 946.74 720.88C946.28 727.04 945.39 733.23 944.28 739.45C943.17 745.66 941.84 751.9 940.52 758.13C939.2 764.36 937.9 770.59 936.9 776.8C935.9 783.02 935.2 789.22 935.11 795.24C935.01 801.25 935.53 807.08 936.96 812.54C938.4 817.99 940.76 823.07 944.34 827.59C947.93 832.11 952.66 836.05 958.97 839.26" fill="none" stroke="#000" stroke-width="1.33"/>
<path d="M966.36 846.67L970.19 836.72L972.18 837.48L968.36 847.44Z" fill="#000" stroke="#000" stroke-width="1.33"/>
<path d="M967.28 841.31L972.26 843.22" stroke="#000" stroke-width="1.33"/>
<circle cx="963.3" cy="839.78" r="4.12" fill="none" stroke="#000" stroke-width="1.33"/>
<path d="M286.2 880.6C292.31 880.64 298.32 880.43 304.3 879.95C310.28 879.48 316.19 878.75 322.04 877.79C327.9 876.83 333.7 875.63 339.46 874.2C345.22 872.78 350.93 871.13 356.6 869.27C362.27 867.41 367.9 865.33 373.51 863.07C379.11 860.82 384.69 858.39 390.24 855.83C395.79 853.28 401.32 850.61 406.84 847.87C412.36 845.13 417.87 842.33 423.37 839.51C428.88 836.69 434.37 833.86 439.88 831.07C445.38 828.28 450.88 825.53 456.4 822.87C461.92 820.21 467.46 817.65 473.01 815.23C478.56 812.82 484.14 810.56 489.74 808.47C495.34 806.38 500.96 804.44 506.61 802.64C512.25 800.83 517.92 799.15 523.62 797.58C529.31 796 535.02 794.53 540.75 793.14C546.49 791.75 552.24 790.43 558.01 789.17C563.79 787.9 569.58 786.69 575.39 785.51C581.2 784.32 587.03 783.16 592.88 782.01C598.72 780.85 604.59 779.69 610.47 778.51C616.34 777.32 622.24 776.11 628.15 774.89C634.06 773.66 639.98 772.43 645.92 771.21C651.86 769.99 657.81 768.78 663.78 767.6C669.74 766.42 675.72 765.27 681.71 764.18C687.7 763.09 693.7 762.05 699.71 761.08C705.72 760.11 711.74 759.22 717.77 758.42C723.8 757.62 729.83 756.91 735.88 756.32C741.93 755.74 747.98 755.26 754.04 754.92C760.11 754.59 766.17 754.38 772.25 754.34C778.32 754.3 784.4 754.41 790.48 754.69C796.55 754.96 802.61 755.39 808.65 755.99C814.68 756.58 820.69 757.33 826.65 758.25C832.62 759.16 838.54 760.23 844.4 761.46C850.25 762.68 856.05 764.06 861.77 765.63C867.49 767.19 873.13 768.94 878.67 770.92C884.21 772.91 889.66 775.13 894.99 777.64C900.32 780.15 905.54 782.95 910.63 786.08C915.71 789.21 920.7 792.68 925.45 796.53C930.21 800.38 934.7 804.59 938.63 809.19C942.57 813.79 945.81 818.84 948.97 823.87C952.13 828.91 955.26 833.91 959.31 838.25" fill="none" stroke="#000" stroke-width="1.33"/>
<path d="M970.19 850.68L966.36 840.73L968.36 839.96L972.18 849.92Z" fill="#000" stroke="#000" stroke-width="1.33"/>
<path d="M967.28 846.09L972.26 844.18" stroke="#000" stroke-width="1.33"/>
<circle cx="963.3" cy="847.62" r="4.12" fill="none" stroke="#000" stroke-width="1.33"/>
<path d="M260.8 1146.5C266.84 1146.66 272.88 1146.08 278.91 1145.34C284.95 1144.61 290.98 1143.81 297.01 1143.2C303.04 1142.59 309.07 1142.09 315.1 1141.68C321.13 1141.26 327.15 1140.92 333.18 1140.63C339.21 1140.33 345.23 1140.06 351.26 1139.81C357.28 1139.56 363.3 1139.31 369.33 1139.09C375.35 1138.86 381.37 1138.64 387.4 1138.43C393.42 1138.23 399.44 1138.04 405.46 1137.85C411.49 1137.67 417.51 1137.5 423.53 1137.33C429.56 1137.17 435.58 1137.01 441.6 1136.87C447.63 1136.72 453.65 1136.59 459.68 1136.46C465.7 1136.33 471.73 1136.21 477.76 1136.09C483.79 1135.98 489.82 1135.87 495.85 1135.77C501.88 1135.67 507.91 1135.57 513.94 1135.48C519.98 1135.39 526.01 1135.3 532.05 1135.22C538.09 1135.14 544.13 1135.06 550.17 1134.98C556.21 1134.91 562.25 1134.83 568.3 1134.76C574.35 1134.69 580.39 1134.62 586.45 1134.56C592.5 1134.49 598.55 1134.42 604.61 1134.36C610.67 1134.29 616.73 1134.23 622.79 1134.16C628.85 1134.1 634.92 1134.03 640.99 1133.96C647.06 1133.89 653.14 1133.82 659.21 1133.75C665.29 1133.68 671.37 1133.6 677.45 1133.51C683.54 1133.41 689.62 1133.31 695.7 1133.19C701.78 1133.06 707.86 1132.92 713.94 1132.75C720.02 1132.58 726.09 1132.38 732.16 1132.15C738.23 1131.91 744.29 1131.64 750.35 1131.33C756.41 1131.02 762.46 1130.67 768.5 1130.27C774.55 1129.87 780.58 1129.42 786.6 1128.91C792.62 1128.4 798.64 1127.84 804.63 1127.21C810.63 1126.58 816.62 1125.88 822.59 1125.12C828.56 1124.35 834.52 1123.52 840.46 1122.6C846.4 1121.69 852.32 1120.69 858.23 1119.61C864.13 1118.53 870.02 1117.36 875.88 1116.1C881.75 1114.84 887.6 1113.48 893.42 1112.02C899.24 1110.56 905 1108.95 910.39 1106.67C915.77 1104.39 920.77 1101.45 925.06 1097.31C929.36 1093.18 932.91 1087.78 935.86 1082.04C938.8 1076.29 941.13 1070.34 942.96 1064.47C944.78 1058.6 946.08 1052.73 946.95 1046.85C947.83 1040.97 948.26 1035.09 948.35 1029.2C948.43 1023.31 948.16 1017.41 947.62 1011.5C947.08 1005.58 946.26 999.66 945.26 993.71C944.26 987.76 943.06 981.79 941.76 975.8C940.46 969.81 939.05 963.8 937.61 957.75C936.17 951.71 934.7 945.64 933.29 939.54C931.88 933.43 930.52 927.29 929.3 921.12C928.08 914.95 927.03 908.76 926.44 902.73C925.85 896.7 925.72 890.83 926.35 885.3C926.99 879.76 928.39 874.56 930.85 869.86C933.3 865.17 936.87 860.98 941.67 857.47C946.47 853.96 952.33 851.12 959.31 849.15" fill="none" stroke="#000" stroke-width="1.33"/>
<path d="M961.62 962.7L971.51 956.46L966.9 961.96L972.18 961.22L966.9 961.96L972.85 965.97L961.62 962.7Z" fill="#000" stroke="#000" stroke-width="1.33" stroke-miterlimit="10"/>
<circle cx="957.39" cy="963.3" r="4.12" fill="none" stroke="#000" stroke-width="1.33"/>
<path d="M801 1195.6C806.88 1195.78 812.88 1195.59 818.84 1195.1C824.81 1194.6 830.78 1193.76 836.7 1192.56C842.62 1191.37 848.49 1189.82 854.24 1187.9C859.98 1185.99 865.61 1183.71 871.05 1181.05C876.49 1178.39 881.75 1175.34 886.75 1171.94C891.76 1168.54 896.51 1164.79 900.95 1160.72C905.39 1156.66 909.51 1152.29 913.25 1147.65C917 1143 920.36 1138.09 923.27 1132.95C926.18 1127.82 928.65 1122.45 930.61 1116.9C932.56 1111.35 934 1105.61 935.03 1099.74C936.05 1093.88 936.67 1087.88 937 1081.8C937.32 1075.73 937.35 1069.58 937.2 1063.42C937.05 1057.25 936.71 1051.06 936.3 1044.91C935.9 1038.76 935.42 1032.65 934.99 1026.63C934.55 1020.6 934.16 1014.67 933.93 1008.89C933.69 1003.11 933.52 997.47 933.84 992.05C934.15 986.63 935.18 981.45 938.5 976.69C941.83 971.94 948.11 967.62 953.17 963.89" fill="none" stroke="#000" stroke-width="1.33"/>
<path d="M961.69 992.45L971.36 985.87L966.94 991.52L972.19 990.6L966.94 991.52L973.02 995.32L961.69 992.45Z" fill="#000" stroke="#000" stroke-width="1.33" stroke-miterlimit="10"/>
<circle cx="957.48" cy="993.19" r="4.12" fill="none" stroke="#000" stroke-width="1.33"/>
<path d="M801 1195.6C806.99 1195.8 813.02 1195.63 819.01 1195.14C825 1194.64 830.97 1193.79 836.86 1192.56C842.74 1191.32 848.55 1189.7 854.21 1187.68C859.88 1185.65 865.41 1183.2 870.75 1180.37C876.08 1177.54 881.23 1174.32 886.12 1170.77C891.01 1167.21 895.66 1163.31 900 1159.11C904.34 1154.9 908.37 1150.4 912.04 1145.63C915.71 1140.86 919.03 1135.83 921.92 1130.58C924.81 1125.33 927.28 1119.85 929.33 1114.2C931.39 1108.56 933.05 1102.74 934.35 1096.83C935.66 1090.91 936.6 1084.89 937.24 1078.82C937.87 1072.75 938.19 1066.64 938.25 1060.54C938.3 1054.45 938.04 1048.36 937.66 1042.37C937.28 1036.37 936.89 1030.47 937.26 1024.77C937.62 1019.07 938.74 1013.57 941.39 1008.39C944.03 1003.21 948.28 998.37 953.28 993.93" fill="none" stroke="#000" stroke-width="1.33"/>
<path d="M961.72 1109.99L971.28 1103.24L966.96 1108.97L972.19 1107.95L966.96 1108.97L973.11 1112.66L961.72 1109.99Z" fill="#000" stroke="#000" stroke-width="1.33" stroke-miterlimit="10"/>
<circle cx="957.54" cy="1110.8" r="4.12" fill="none" stroke="#000" stroke-width="1.33"/>
<path d="M801 1195.6C807.61 1195.86 814.03 1195.16 820.29 1193.74C826.54 1192.32 832.62 1190.17 838.57 1187.53C844.52 1184.89 850.34 1181.75 856.04 1178.35C861.75 1174.96 867.35 1171.29 872.87 1167.6C878.39 1163.91 883.83 1160.21 889.22 1156.52C894.61 1152.84 899.95 1149.15 905.27 1145.46C910.59 1141.76 915.89 1138.06 921.2 1134.33C926.51 1130.61 931.83 1126.86 937.18 1123.09C942.53 1119.31 947.89 1115.47 953.35 1111.61" fill="none" stroke="#000" stroke-width="1.33"/>
<path d="M961.86 1139.93L971.05 1132.69L967.03 1138.64L972.21 1137.35L967.03 1138.64L973.37 1142.01L961.86 1139.93Z" fill="#000" stroke="#000" stroke-width="1.33" stroke-miterlimit="10"/>
<circle cx="957.72" cy="1140.96" r="4.12" fill="none" stroke="#000" stroke-width="1.33"/>
<path d="M493.4 1195.6C499.73 1195.05 505.42 1196.58 510.66 1199.32C515.9 1202.06 520.67 1206 525.16 1210.29C529.64 1214.58 533.85 1219.24 538.1 1223.75C542.35 1228.25 546.64 1232.61 551.3 1236.28C555.96 1239.95 561.08 1242.75 566.53 1245.01C571.98 1247.27 577.65 1249.21 583.32 1251.24C589 1253.27 594.73 1255.3 600.51 1257.29C606.3 1259.28 612.13 1261.25 618.01 1263.17C623.88 1265.1 629.8 1266.98 635.75 1268.8C641.7 1270.61 647.69 1272.37 653.7 1274.06C659.71 1275.74 665.74 1277.34 671.8 1278.86C677.85 1280.37 683.93 1281.79 690.01 1283.1C696.09 1284.41 702.18 1285.62 708.28 1286.69C714.37 1287.77 720.47 1288.72 726.56 1289.53C732.65 1290.34 738.73 1291 744.8 1291.51C750.87 1292.02 756.92 1292.37 762.96 1292.54C768.99 1292.72 775 1292.72 780.99 1292.53C786.98 1292.34 792.95 1291.95 798.91 1291.36C804.86 1290.77 810.81 1289.96 816.75 1288.93C822.69 1287.9 828.62 1286.65 834.55 1285.15C840.48 1283.64 846.42 1281.9 852.36 1279.89C858.3 1277.88 864.26 1275.6 870.17 1273.05C876.07 1270.5 881.9 1267.67 887.5 1264.54C893.1 1261.41 898.48 1257.98 903.49 1254.24C908.5 1250.49 913.14 1246.44 917.27 1242.04C921.39 1237.65 925.01 1232.93 927.97 1227.85C930.93 1222.78 933.19 1217.34 934.74 1211.57C936.28 1205.79 937.19 1199.71 937.94 1193.55C938.7 1187.39 939.3 1181.15 940.23 1175.06C941.16 1168.96 942.42 1163.01 944.49 1157.43C946.56 1151.85 949.41 1146.62 953.58 1142" fill="none" stroke="#000" stroke-width="1.33"/>
<path d="M961.69 1168.45L971.36 1161.87L966.94 1167.52L972.19 1166.59L966.94 1167.52L973.02 1171.32L961.69 1168.45Z" fill="#000" stroke="#000" stroke-width="1.33" stroke-miterlimit="10"/>
<circle cx="957.48" cy="1169.19" r="4.12" fill="none" stroke="#000" stroke-width="1.33"/>
<path d="M513.5 1336.9C519.44 1336.7 525.44 1336.71 531.41 1336.79C537.38 1336.87 543.36 1337.08 549.36 1337.39C555.35 1337.71 561.36 1338.13 567.37 1338.65C573.39 1339.16 579.41 1339.75 585.44 1340.42C591.47 1341.08 597.51 1341.81 603.55 1342.58C609.59 1343.35 615.64 1344.17 621.69 1345.01C627.73 1345.85 633.79 1346.71 639.84 1347.57C645.89 1348.43 651.94 1349.3 657.99 1350.14C664.04 1350.99 670.09 1351.81 676.14 1352.6C682.19 1353.38 688.23 1354.13 694.26 1354.81C700.3 1355.49 706.33 1356.11 712.35 1356.64C718.38 1357.18 724.39 1357.63 730.4 1357.98C736.4 1358.32 742.4 1358.56 748.38 1358.68C754.36 1358.79 760.33 1358.78 766.29 1358.62C772.25 1358.47 778.19 1358.16 784.12 1357.69C790.04 1357.21 795.95 1356.57 801.84 1355.74C807.74 1354.9 813.61 1353.88 819.46 1352.64C825.32 1351.41 831.15 1349.96 836.96 1348.29C842.77 1346.61 848.56 1344.7 854.32 1342.53C860.08 1340.37 865.84 1337.94 871.49 1335.26C877.14 1332.58 882.69 1329.63 888.03 1326.42C893.36 1323.21 898.48 1319.74 903.27 1316C908.07 1312.26 912.54 1308.26 916.57 1303.99C920.61 1299.71 924.22 1295.17 927.28 1290.36C930.34 1285.55 932.85 1280.46 934.74 1275.11C936.63 1269.76 937.95 1264.16 938.89 1258.39C939.83 1252.61 940.4 1246.67 940.77 1240.63C941.15 1234.6 941.33 1228.47 941.55 1222.34C941.76 1216.21 942.02 1210.08 942.64 1204.04C943.26 1198.01 944.25 1192.08 945.92 1186.36C947.59 1180.64 949.94 1175.13 953.28 1169.93" fill="none" stroke="#000" stroke-width="1.33"/>
<path d="M961.69 1168.45L971.36 1161.87L966.94 1167.52L972.19 1166.59L966.94 1167.52L973.02 1171.32L961.69 1168.45Z" fill="#000" stroke="#000" stroke-width="1.33" stroke-miterlimit="10"/>
<circle cx="957.48" cy="1169.19" r="4.12" fill="none" stroke="#000" stroke-width="1.33"/>
<path d="M266.1 1301.1C272.26 1300.6 278.39 1301.81 283.72 1304.46C289.05 1307.12 293.53 1311.27 296.48 1316.63C299.44 1322 301.08 1328.49 302.69 1334.95C304.3 1341.42 306.01 1347.73 308.57 1353.23C311.12 1358.73 314.32 1363.6 318.03 1367.98C321.73 1372.36 325.94 1376.25 330.5 1379.78C335.07 1383.32 340 1386.5 345.15 1389.47C350.3 1392.45 355.67 1395.21 361.12 1397.9C366.56 1400.59 372.07 1403.23 377.61 1405.84C383.14 1408.46 388.71 1411.04 394.31 1413.59C399.91 1416.13 405.54 1418.63 411.2 1421.08C416.87 1423.53 422.56 1425.94 428.28 1428.29C434 1430.64 439.75 1432.94 445.52 1435.17C451.3 1437.4 457.1 1439.57 462.92 1441.67C468.74 1443.78 474.58 1445.81 480.45 1447.76C486.31 1449.72 492.2 1451.6 498.1 1453.4C504.01 1455.19 509.93 1456.9 515.87 1458.53C521.8 1460.15 527.76 1461.68 533.72 1463.11C539.69 1464.55 545.67 1465.88 551.66 1467.11C557.65 1468.34 563.66 1469.47 569.67 1470.48C575.68 1471.5 581.7 1472.4 587.72 1473.18C593.75 1473.96 599.78 1474.63 605.82 1475.16C611.85 1475.7 617.89 1476.11 623.93 1476.39C629.97 1476.67 636.02 1476.81 642.06 1476.81C648.1 1476.82 654.14 1476.68 660.18 1476.39C666.22 1476.11 672.25 1475.68 678.28 1475.09C684.31 1474.51 690.33 1473.77 696.34 1472.89C702.35 1472.01 708.34 1470.98 714.32 1469.8C720.29 1468.63 726.25 1467.32 732.18 1465.86C738.11 1464.41 744.01 1462.81 749.88 1461.08C755.76 1459.35 761.6 1457.49 767.4 1455.49C773.2 1453.49 778.96 1451.36 784.68 1449.1C790.4 1446.84 796.08 1444.45 801.7 1441.94C807.33 1439.43 812.9 1436.79 818.42 1434.03C823.93 1431.27 829.39 1428.39 834.79 1425.4C840.19 1422.4 845.52 1419.28 850.79 1416.05C856.05 1412.82 861.24 1409.47 866.32 1405.99C871.4 1402.51 876.39 1398.9 881.24 1395.15C886.09 1391.4 890.82 1387.5 895.39 1383.45C899.95 1379.41 904.37 1375.2 908.59 1370.84C912.82 1366.47 916.88 1361.94 920.71 1357.23C924.54 1352.53 928.12 1347.64 931.3 1342.57C934.47 1337.5 937.24 1332.24 939.43 1326.78C941.62 1321.32 943.22 1315.66 944.1 1309.79C944.97 1303.93 945.17 1297.86 944.9 1291.67C944.63 1285.49 943.91 1279.18 942.95 1272.82C942 1266.47 940.82 1260.07 939.64 1253.69C938.46 1247.32 937.28 1240.98 936.33 1234.75C935.38 1228.51 934.66 1222.39 934.4 1216.44C934.13 1210.49 934.31 1204.73 935.24 1199.23C936.18 1193.72 937.89 1188.47 940.78 1183.56C943.67 1178.65 947.66 1174.1 953.28 1169.93" fill="none" stroke="#000" stroke-width="1.33"/>
<path d="M1346.87 1074.82L1350.34 1064.74L1352.36 1065.43L1348.89 1075.52Z" fill="#000" stroke="#000" stroke-width="1.33"/>
<path d="M1347.6 1069.43L1352.64 1071.17" stroke="#000" stroke-width="1.33"/>
<circle cx="1343.57" cy="1068.04" r="4.12" fill="none" stroke="#000" stroke-width="1.33"/>
<path d="M258.2 678.3C264.47 678.47 270.31 677.75 275.87 676.23C281.44 674.71 286.68 672.42 291.62 669.52C296.57 666.62 301.23 663.11 305.65 659.15C310.07 655.19 314.24 650.78 318.21 646.08C322.18 641.38 325.95 636.38 329.56 631.25C333.17 626.12 336.63 620.87 339.96 615.61C343.29 610.34 346.49 605.05 349.57 599.72C352.66 594.4 355.62 589.04 358.47 583.65C361.33 578.27 364.07 572.85 366.71 567.41C369.34 561.96 371.88 556.49 374.32 550.99C376.76 545.5 379.11 539.97 381.37 534.42C383.64 528.88 385.81 523.3 387.91 517.71C390.01 512.12 392.04 506.5 393.99 500.86C395.95 495.22 397.83 489.57 399.66 483.89C401.49 478.21 403.25 472.52 404.97 466.81C406.68 461.09 408.35 455.36 409.97 449.62C411.59 443.87 413.17 438.11 414.72 432.34C416.26 426.57 417.77 420.78 419.26 414.98C420.75 409.19 422.21 403.38 423.65 397.56C425.09 391.74 426.52 385.91 427.94 380.07C429.35 374.23 430.76 368.39 432.17 362.53C433.58 356.68 434.99 350.82 436.41 344.96C437.83 339.1 439.26 333.23 440.7 327.36C442.15 321.49 443.61 315.62 445.1 309.74C446.59 303.87 448.1 298 449.65 292.12C451.2 286.25 452.78 280.38 454.41 274.5C456.03 268.63 457.7 262.77 459.42 256.9C461.15 251.04 462.92 245.19 464.75 239.35C466.59 233.51 468.49 227.69 470.47 221.91C472.44 216.13 474.49 210.37 476.62 204.67C478.76 198.96 480.98 193.3 483.3 187.7C485.61 182.09 488.03 176.55 490.55 171.08C493.07 165.61 495.71 160.21 498.46 154.89C501.21 149.57 504.08 144.34 507.08 139.21C510.08 134.07 513.21 129.04 516.48 124.11C519.76 119.18 523.17 114.37 526.74 109.68C530.31 104.99 534.03 100.42 537.92 95.99C541.8 91.55 545.86 87.26 550.08 83.11C554.31 78.97 558.71 74.97 563.3 71.14C567.89 67.31 572.66 63.63 577.64 60.14C582.61 56.64 587.8 53.33 593.07 50.16C598.34 46.98 603.65 43.92 608.96 40.98C614.27 38.04 619.59 35.23 624.96 32.57C630.33 29.92 635.74 27.42 641.24 25.11C646.73 22.8 652.3 20.68 657.98 18.79C663.66 16.89 669.43 15.21 675.28 13.75C681.13 12.28 687.05 11.03 693.02 10C698.99 8.96 705 8.14 711.04 7.53C717.09 6.92 723.15 6.53 729.21 6.34C735.27 6.16 741.34 6.18 747.37 6.42C753.41 6.66 759.42 7.1 765.38 7.76C771.34 8.41 777.24 9.28 783.09 10.34C788.94 11.41 794.74 12.67 800.49 14.11C806.23 15.54 811.93 17.16 817.58 18.94C823.23 20.72 828.83 22.66 834.39 24.75C839.94 26.84 845.46 29.07 850.93 31.43C856.41 33.79 861.84 36.28 867.24 38.88C872.63 41.48 877.99 44.19 883.32 47C888.65 49.8 893.94 52.71 899.2 55.68C904.47 58.66 909.7 61.72 914.91 64.84C920.12 67.95 925.3 71.13 930.45 74.35C935.61 77.58 940.75 80.84 945.86 84.14C950.97 87.43 956.07 90.76 961.13 94.12C966.19 97.49 971.22 100.89 976.21 104.34C981.2 107.79 986.15 111.29 991.06 114.83C995.97 118.37 1000.83 121.97 1005.63 125.61C1010.44 129.26 1015.19 132.97 1019.88 136.73C1024.57 140.5 1029.2 144.32 1033.76 148.22C1038.32 152.11 1042.81 156.07 1047.22 160.1C1051.63 164.13 1055.97 168.24 1060.21 172.42C1064.46 176.6 1068.62 180.87 1072.69 185.21C1076.76 189.55 1080.74 193.98 1084.61 198.5C1088.49 203.01 1092.27 207.61 1095.96 212.28C1099.65 216.96 1103.24 221.71 1106.75 226.54C1110.25 231.37 1113.67 236.26 1116.99 241.23C1120.32 246.2 1123.56 251.23 1126.71 256.33C1129.86 261.43 1132.93 266.59 1135.91 271.8C1138.89 277.02 1141.79 282.29 1144.61 287.62C1147.43 292.94 1150.17 298.32 1152.83 303.74C1155.49 309.16 1158.08 314.63 1160.58 320.15C1163.09 325.66 1165.52 331.21 1167.88 336.8C1170.24 342.39 1172.53 348.01 1174.74 353.67C1176.96 359.32 1179.1 365.01 1181.18 370.72C1183.26 376.43 1185.27 382.17 1187.21 387.93C1189.16 393.68 1191.03 399.46 1192.85 405.25C1194.66 411.05 1196.42 416.85 1198.11 422.67C1199.8 428.49 1201.43 434.32 1203.01 440.15C1204.58 445.98 1206.1 451.81 1207.56 457.65C1209.02 463.49 1210.43 469.32 1211.79 475.16C1213.16 480.99 1214.49 486.82 1215.8 492.66C1217.1 498.49 1218.38 504.32 1219.65 510.15C1220.92 515.98 1222.18 521.81 1223.44 527.64C1224.7 533.46 1225.97 539.28 1227.25 545.1C1228.53 550.92 1229.83 556.74 1231.16 562.55C1232.5 568.37 1233.86 574.17 1235.26 579.98C1236.67 585.78 1238.13 591.58 1239.64 597.38C1241.15 603.17 1242.72 608.96 1244.37 614.74C1246.01 620.53 1247.72 626.3 1249.5 632.07C1251.27 637.84 1253.1 643.61 1254.98 649.37C1256.85 655.12 1258.78 660.87 1260.75 666.61C1262.72 672.36 1264.72 678.09 1266.76 683.81C1268.8 689.54 1270.87 695.26 1272.95 700.96C1275.04 706.67 1277.15 712.37 1279.26 718.06C1281.37 723.75 1283.47 729.43 1285.51 735.12C1287.55 740.8 1289.54 746.49 1291.42 752.19C1293.3 757.89 1295.07 763.59 1296.69 769.31C1298.31 775.04 1299.78 780.78 1301.04 786.54C1302.31 792.31 1303.37 798.09 1304.18 803.92C1304.99 809.74 1305.55 815.59 1305.98 821.48C1306.4 827.37 1306.69 833.31 1306.94 839.28C1307.19 845.26 1307.41 851.29 1307.6 857.35C1307.8 863.42 1307.98 869.52 1308.13 875.64C1308.28 881.76 1308.41 887.9 1308.53 894.06C1308.64 900.21 1308.73 906.37 1308.81 912.53C1308.89 918.69 1308.95 924.84 1309.01 930.98C1309.06 937.11 1309.09 943.23 1309.12 949.32C1309.15 955.41 1309.19 961.46 1309.31 967.48C1309.43 973.49 1309.63 979.46 1310 985.37C1310.37 991.28 1310.9 997.14 1311.68 1002.92C1312.46 1008.7 1313.48 1014.42 1314.83 1020.05C1316.17 1025.67 1317.83 1031.23 1319.94 1036.65C1322.05 1042.07 1324.62 1047.34 1327.83 1052.38C1331.04 1057.41 1334.86 1062.19 1339.53 1066.65" fill="none" stroke="#000" stroke-width="1.33"/>
<path d="M1342.09 1069.52L1353.42 1066.64L1347.34 1070.44L1352.59 1071.37L1347.34 1070.44L1351.76 1076.1L1342.09 1069.52Z" fill="#000" stroke="#000" stroke-width="1.33" stroke-miterlimit="10"/>
<circle cx="1337.88" cy="1068.78" r="4.12" fill="none" stroke="#000" stroke-width="1.33"/>
<path d="M1288.7 843.7C1294.91 843.27 1300.98 844.56 1306.41 847.09C1311.85 849.63 1316.63 853.4 1320.24 857.93C1323.86 862.46 1326.34 867.75 1327.97 873.45C1329.59 879.16 1330.35 885.28 1330.5 891.48C1330.65 897.68 1330.19 903.93 1329.39 910.19C1328.59 916.44 1327.45 922.72 1326.22 928.99C1324.99 935.26 1323.68 941.52 1322.38 947.76C1321.08 954 1319.78 960.22 1318.57 966.4C1317.36 972.57 1316.23 978.71 1315.26 984.78C1314.29 990.86 1313.48 996.88 1312.91 1002.82C1312.34 1008.76 1311.98 1014.63 1312.03 1020.4C1312.08 1026.17 1312.62 1031.85 1314.1 1037.41C1315.58 1042.97 1317.96 1048.4 1321.24 1053.56C1324.52 1058.71 1328.63 1063.59 1333.68 1068.04" fill="none" stroke="#000" stroke-width="1.33"/>
<path d="M1342.05 1073.48L1351.84 1067.07L1347.32 1072.64L1352.59 1071.81L1347.32 1072.64L1353.34 1076.55L1342.05 1073.48Z" fill="#000" stroke="#000" stroke-width="1.33" stroke-miterlimit="10"/>
<circle cx="1337.84" cy="1074.14" r="4.12" fill="none" stroke="#000" stroke-width="1.33"/>
<path d="M801 1195.6C807.13 1195.46 813.02 1196.13 818.74 1197.46C824.45 1198.8 829.99 1200.76 835.41 1203.13C840.82 1205.5 846.11 1208.28 851.32 1211.31C856.54 1214.34 861.68 1217.62 866.79 1221.02C871.91 1224.41 877.01 1227.91 882.13 1231.38C887.26 1234.85 892.42 1238.29 897.66 1241.55C902.9 1244.81 908.23 1247.87 913.62 1250.75C919.02 1253.64 924.48 1256.35 929.99 1258.91C935.49 1261.47 941.02 1263.89 946.58 1266.18C952.14 1268.48 957.72 1270.65 963.32 1272.72C968.92 1274.79 974.55 1276.76 980.2 1278.65C985.84 1280.54 991.51 1282.34 997.2 1284.09C1002.89 1285.84 1008.61 1287.53 1014.34 1289.18C1020.07 1290.83 1025.83 1292.44 1031.61 1294.04C1037.38 1295.63 1043.18 1297.21 1049 1298.79C1054.81 1300.37 1060.65 1301.97 1066.51 1303.56C1072.37 1305.15 1078.25 1306.72 1084.14 1308.24C1090.04 1309.76 1095.96 1311.22 1101.89 1312.58C1107.83 1313.93 1113.79 1315.18 1119.76 1316.28C1125.73 1317.39 1131.73 1318.34 1137.74 1319.09C1143.75 1319.84 1149.78 1320.4 1155.83 1320.71C1161.88 1321.02 1167.94 1321.09 1174.03 1320.87C1180.11 1320.65 1186.21 1320.14 1192.3 1319.33C1198.38 1318.52 1204.45 1317.43 1210.45 1316.04C1216.45 1314.66 1222.38 1312.98 1228.21 1311.02C1234.04 1309.06 1239.76 1306.82 1245.33 1304.3C1250.9 1301.77 1256.32 1298.97 1261.55 1295.88C1266.77 1292.8 1271.8 1289.44 1276.6 1285.81C1281.39 1282.17 1285.95 1278.27 1290.23 1274.09C1294.5 1269.91 1298.5 1265.46 1302.17 1260.75C1305.83 1256.05 1309.15 1251.11 1312.07 1245.95C1314.98 1240.8 1317.49 1235.43 1319.52 1229.9C1321.55 1224.36 1323.1 1218.66 1324.11 1212.82C1325.12 1206.98 1325.56 1201.01 1325.54 1194.94C1325.53 1188.87 1325.06 1182.7 1324.27 1176.48C1323.49 1170.25 1322.37 1163.96 1321.16 1157.67C1319.94 1151.38 1318.64 1145.1 1317.56 1138.92C1316.47 1132.73 1315.6 1126.64 1315.24 1120.73C1314.88 1114.82 1315.03 1109.1 1315.98 1103.64C1316.92 1098.18 1318.68 1092.99 1321.53 1088.15C1324.38 1083.31 1328.28 1078.85 1333.62 1074.81" fill="none" stroke="#000" stroke-width="1.33"/>
<path d="M1342.05 1073.48L1351.84 1067.07L1347.32 1072.64L1352.59 1071.81L1347.32 1072.64L1353.34 1076.55L1342.05 1073.48Z" fill="#000" stroke="#000" stroke-width="1.33" stroke-miterlimit="10"/>
<circle cx="1337.84" cy="1074.14" r="4.12" fill="none" stroke="#000" stroke-width="1.33"/>
<path d="M801 1195.6C807.21 1195.46 813.14 1196.06 818.9 1197.28C824.67 1198.5 830.26 1200.31 835.8 1202.53C841.33 1204.74 846.81 1207.35 852.26 1210.23C857.7 1213.1 863.12 1216.23 868.51 1219.47C873.9 1222.72 879.27 1226.08 884.64 1229.43C890.01 1232.77 895.37 1236.09 900.75 1239.24C906.13 1242.4 911.51 1245.4 916.93 1248.24C922.34 1251.08 927.78 1253.76 933.26 1256.29C938.74 1258.82 944.27 1261.19 949.85 1263.43C955.42 1265.67 961.04 1267.77 966.7 1269.77C972.36 1271.76 978.07 1273.64 983.81 1275.44C989.55 1277.24 995.32 1278.96 1001.14 1280.62C1006.95 1282.27 1012.79 1283.87 1018.67 1285.44C1024.54 1287.01 1030.44 1288.54 1036.37 1290.07C1042.3 1291.6 1048.26 1293.12 1054.23 1294.66C1060.21 1296.2 1066.21 1297.76 1072.22 1299.31C1078.24 1300.86 1084.27 1302.39 1090.32 1303.85C1096.36 1305.31 1102.42 1306.7 1108.49 1307.97C1114.56 1309.24 1120.64 1310.39 1126.73 1311.37C1132.81 1312.36 1138.9 1313.17 1144.99 1313.77C1151.08 1314.36 1157.18 1314.74 1163.27 1314.85C1169.36 1314.96 1175.45 1314.8 1181.53 1314.32C1187.61 1313.85 1193.67 1313.08 1199.69 1312C1205.71 1310.93 1211.67 1309.55 1217.56 1307.88C1223.45 1306.21 1229.25 1304.25 1234.94 1301.99C1240.62 1299.73 1246.19 1297.19 1251.61 1294.35C1257.03 1291.51 1262.3 1288.38 1267.39 1284.97C1272.47 1281.56 1277.38 1277.87 1282.06 1273.89C1286.74 1269.91 1291.21 1265.65 1295.42 1261.12C1299.63 1256.59 1303.56 1251.78 1307.1 1246.75C1310.64 1241.72 1313.77 1236.46 1316.39 1231C1319.01 1225.55 1321.1 1219.9 1322.55 1214.11C1323.99 1208.31 1324.75 1202.36 1324.93 1196.29C1325.11 1190.23 1324.74 1184.05 1324 1177.8C1323.26 1171.55 1322.13 1165.21 1320.88 1158.86C1319.63 1152.52 1318.27 1146.16 1317.11 1139.9C1315.96 1133.63 1315.01 1127.45 1314.6 1121.44C1314.18 1115.44 1314.29 1109.62 1315.25 1104.07C1316.21 1098.52 1318.01 1093.24 1320.98 1088.33C1323.95 1083.42 1328.03 1078.9 1333.62 1074.81" fill="none" stroke="#000" stroke-width="1.33"/>
<path d="M568.96 152.51L580.65 152.26L573.87 154.6L578.78 156.68L573.87 154.6L576.9 161.1L568.96 152.51Z" fill="#000" stroke="#000" stroke-width="1.33" stroke-miterlimit="10"/>
<circle cx="565.03" cy="150.85" r="4.12" fill="none" stroke="#000" stroke-width="1.33"/>
<path d="M1288.7 843.7C1295.29 845.15 1299.4 840.51 1301.82 834.85C1304.24 829.2 1305.01 822.63 1305.04 816.2C1305.06 809.76 1304.33 803.45 1303.13 797.26C1301.93 791.06 1300.27 784.97 1298.41 778.98C1296.56 772.98 1294.54 767.07 1292.56 761.24C1290.59 755.4 1288.61 749.63 1286.62 743.92C1284.63 738.2 1282.63 732.53 1280.61 726.9C1278.59 721.26 1276.54 715.66 1274.47 710.06C1272.4 704.47 1270.29 698.88 1268.15 693.3C1266.01 687.72 1263.84 682.15 1261.63 676.58C1259.43 671.01 1257.19 665.44 1254.93 659.89C1252.66 654.33 1250.37 648.78 1248.04 643.24C1245.72 637.69 1243.36 632.15 1240.98 626.62C1238.6 621.09 1236.19 615.57 1233.75 610.05C1231.31 604.53 1228.85 599.02 1226.36 593.52C1223.87 588.01 1221.36 582.52 1218.82 577.03C1216.28 571.54 1213.72 566.06 1211.13 560.58C1208.54 555.11 1205.94 549.64 1203.3 544.18C1200.67 538.72 1198.02 533.26 1195.34 527.82C1192.67 522.37 1189.98 516.94 1187.26 511.51C1184.55 506.08 1181.81 500.66 1179.06 495.24C1176.31 489.83 1173.54 484.42 1170.75 479.03C1167.96 473.63 1165.15 468.24 1162.33 462.86C1159.51 457.48 1156.67 452.11 1153.82 446.74C1150.97 441.38 1148.1 436.02 1145.22 430.68C1142.34 425.33 1139.44 419.99 1136.54 414.67C1133.63 409.34 1130.71 404.02 1127.78 398.71C1124.85 393.4 1121.91 388.1 1118.95 382.8C1116 377.51 1113.04 372.23 1110.07 366.96C1107.1 361.68 1104.11 356.42 1101.12 351.16C1098.13 345.9 1095.13 340.66 1092.12 335.41C1089.11 330.17 1086.1 324.94 1083.07 319.71C1080.04 314.48 1077.01 309.26 1073.96 304.04C1070.92 298.83 1067.86 293.62 1064.8 288.41C1061.74 283.2 1058.67 278 1055.59 272.8C1052.51 267.61 1049.42 262.41 1046.33 257.22C1043.23 252.03 1040.13 246.85 1037.02 241.66C1033.91 236.48 1030.79 231.3 1027.67 226.11C1024.54 220.93 1021.41 215.76 1018.27 210.58C1015.13 205.4 1011.98 200.22 1008.83 195.04C1005.67 189.87 1002.51 184.69 999.34 179.51C996.18 174.33 993 169.15 989.8 163.99C986.59 158.83 983.36 153.69 980.07 148.6C976.78 143.5 973.43 138.44 970 133.46C966.57 128.47 963.06 123.54 959.45 118.71C955.83 113.87 952.11 109.12 948.26 104.48C944.41 99.84 940.42 95.31 936.28 90.91C932.14 86.51 927.88 82.21 923.4 78.1C920.79 75.56 916.82 74.6 913.2 74.2C906.9 73.59 900.6 72.97 894.29 72.42C887.99 71.88 881.68 71.37 875.36 70.89C869.05 70.42 862.73 69.98 856.4 69.57C850.08 69.17 843.76 68.8 837.43 68.46C831.1 68.12 824.77 67.82 818.44 67.55C812.1 67.28 805.77 67.04 799.43 66.84C793.09 66.63 786.76 66.46 780.42 66.32C774.08 66.18 767.74 66.08 761.4 66.01C755.06 65.93 748.71 65.89 742.37 65.88C736.03 65.87 729.69 65.89 723.35 65.95C717.01 66 710.67 66.09 704.33 66.2C697.99 66.32 691.66 66.46 685.32 66.64C678.99 66.82 672.65 67.04 666.32 67.29C659.99 67.54 653.66 67.82 647.33 68.15C641.01 68.47 634.69 68.84 628.37 69.24C622.05 69.65 615.73 70.1 609.42 70.6C603.11 71.1 596.8 71.71 590.5 72.3C586.69 72.76 582.35 73.33 579.6 76C574.61 80.47 570.13 85.74 566.44 91.49C562.74 97.24 559.82 103.49 557.93 109.95C556.05 116.42 555.2 123.11 555.64 129.75C556.09 136.38 557.8 142.94 561.1 149.18" fill="none" stroke="#000" stroke-width="1.33"/>
<path d="M362.99 1199.06L366.11 1188.86L368.15 1189.49L365.03 1199.69Z" fill="#000" stroke="#000" stroke-width="1.33"/>
<path d="M363.53 1193.65L368.63 1195.21" stroke="#000" stroke-width="1.33"/>
<circle cx="359.45" cy="1192.4" r="4.12" fill="none" stroke="#000" stroke-width="1.33"/>
<path d="M258.2 678.3C263.83 677.85 271.49 679.27 277 682.03C282.51 684.8 286.61 688.89 289.84 693.72C293.07 698.55 295.42 704.13 297.44 709.88C299.46 715.63 301.21 721.47 302.79 727.31C304.37 733.15 305.77 739.02 306.99 744.91C308.22 750.8 309.27 756.71 310.17 762.65C311.08 768.59 311.83 774.55 312.45 780.53C313.07 786.51 313.57 792.52 313.95 798.54C314.33 804.56 314.6 810.61 314.78 816.67C314.96 822.73 315.05 828.8 315.07 834.9C315.09 840.99 315.04 847.1 314.94 853.22C314.83 859.35 314.68 865.49 314.5 871.64C314.32 877.79 314.1 883.95 313.88 890.12C313.65 896.29 313.42 902.48 313.19 908.67C312.97 914.86 312.75 921.06 312.56 927.27C312.37 933.48 312.21 939.69 312.1 945.91C311.99 952.13 311.93 958.36 311.91 964.58C311.89 970.8 311.91 977.03 311.98 983.24C312.04 989.46 312.15 995.67 312.29 1001.86C312.43 1008.06 312.62 1014.24 312.84 1020.41C313.06 1026.57 313.31 1032.72 313.6 1038.84C313.89 1044.96 314.21 1051.06 314.56 1057.13C314.92 1063.19 315.3 1069.23 315.71 1075.23C316.13 1081.23 316.57 1087.2 317.04 1093.12C317.51 1099.04 317.98 1104.92 318.59 1110.76C319.19 1116.59 319.94 1122.38 321 1128.11C322.05 1133.84 323.4 1139.52 325.21 1145.14C327.02 1150.76 329.31 1156.33 332.17 1161.8C335.03 1167.27 338.43 1172.6 342.32 1177.57C346.21 1182.54 350.56 1187.14 355.37 1191.16" fill="none" stroke="#000" stroke-width="1.33"/>
<path d="M362.57 1198.07L367.08 1188.4L369.02 1189.3L364.51 1198.97Z" fill="#000" stroke="#000" stroke-width="1.33"/>
<path d="M363.86 1192.78L368.69 1195.04" stroke="#000" stroke-width="1.33"/>
<circle cx="359.99" cy="1190.98" r="4.12" fill="none" stroke="#000" stroke-width="1.33"/>
<path d="M286.2 880.6C292.58 879.85 297.41 882.42 301.2 886.74C305 891.06 307.81 897.08 310.24 903.14C312.67 909.19 314.74 915.24 316.51 921.3C318.27 927.35 319.73 933.4 320.93 939.45C322.13 945.5 323.08 951.55 323.82 957.61C324.57 963.66 325.11 969.72 325.51 975.78C325.9 981.84 326.15 987.91 326.3 993.98C326.45 1000.05 326.51 1006.13 326.52 1012.22C326.53 1018.31 326.51 1024.41 326.49 1030.51C326.47 1036.62 326.47 1042.74 326.52 1048.87C326.58 1055 326.69 1061.13 326.88 1067.25C327.08 1073.37 327.37 1079.48 327.78 1085.57C328.19 1091.65 328.73 1097.71 329.43 1103.73C330.12 1109.75 330.97 1115.73 332.02 1121.66C333.07 1127.59 334.31 1133.46 335.78 1139.26C337.25 1145.06 338.95 1150.79 340.91 1156.44C342.87 1162.09 345.09 1167.65 347.61 1173.11C350.14 1178.58 352.98 1183.93 356.13 1189.18" fill="none" stroke="#000" stroke-width="1.33"/>
<path d="M363.46 1199.88L365.31 1189.38L367.42 1189.75L365.56 1200.25Z" fill="#000" stroke="#000" stroke-width="1.33"/>
<path d="M363.34 1194.44L368.59 1195.37" stroke="#000" stroke-width="1.33"/>
<circle cx="359.14" cy="1193.7" r="4.12" fill="none" stroke="#000" stroke-width="1.33"/>
<path d="M260.8 1146.5C268.16 1146.07 274.91 1147.42 281.31 1149.9C287.71 1152.38 293.74 1156 299.64 1160.1C305.53 1164.21 311.28 1168.81 317.12 1173.25C322.96 1177.69 328.88 1181.98 335.11 1185.47C341.34 1188.97 347.86 1191.71 354.93 1192.96" fill="none" stroke="#000" stroke-width="1.33"/>
<path d="M365.76 1202.13L363.18 1191.78L365.25 1191.26L367.83 1201.61Z" fill="#000" stroke="#000" stroke-width="1.33"/>
<path d="M363.43 1197.21L368.61 1195.92" stroke="#000" stroke-width="1.33"/>
<circle cx="359.29" cy="1198.24" r="4.12" fill="none" stroke="#000" stroke-width="1.33"/>
<path d="M266.1 1301.1C272.4 1301.51 277.93 1300.24 282.89 1297.73C287.85 1295.22 292.21 1291.49 296.09 1287.04C299.98 1282.58 303.4 1277.41 306.48 1271.86C309.57 1266.3 312.32 1260.36 314.88 1254.36C317.43 1248.35 319.77 1242.28 322.08 1236.47C324.39 1230.65 326.71 1225.09 329.49 1220.09C332.28 1215.09 335.51 1210.65 339.65 1207.08C343.79 1203.51 348.78 1200.8 355.15 1199.28" fill="none" stroke="#000" stroke-width="1.33"/>
<path d="M363.9 1205.99L365.08 1194.35L366.57 1201.37L369.23 1196.75L366.57 1201.37L373.39 1199.15L363.9 1205.99Z" fill="#000" stroke="#000" stroke-width="1.33" stroke-miterlimit="10"/>
<circle cx="361.77" cy="1209.68" r="4.12" fill="none" stroke="#000" stroke-width="1.33"/>
<path d="M801 1195.6C808.33 1193.42 810.95 1199.93 811.02 1207.19C811.1 1214.46 808.85 1221.21 805.38 1225.51C801.91 1229.82 797.08 1232.42 791.51 1234.05C785.95 1235.68 779.64 1236.34 773.23 1236.76C766.81 1237.18 760.37 1237.47 754.02 1237.77C747.67 1238.06 741.37 1238.33 735.11 1238.56C728.86 1238.8 722.65 1239 716.48 1239.18C710.31 1239.36 704.18 1239.52 698.07 1239.65C691.97 1239.78 685.9 1239.89 679.85 1239.97C673.8 1240.06 667.77 1240.13 661.76 1240.18C655.74 1240.23 649.75 1240.27 643.76 1240.29C637.77 1240.31 631.79 1240.32 625.81 1240.31C619.82 1240.31 613.84 1240.3 607.85 1240.28C601.87 1240.25 595.87 1240.23 589.86 1240.19C583.85 1240.16 577.82 1240.12 571.78 1240.09C565.73 1240.05 559.66 1240.01 553.56 1239.97C547.46 1239.94 541.33 1239.9 535.16 1239.87C529 1239.84 522.8 1239.82 516.58 1239.77C510.36 1239.73 504.13 1239.68 497.89 1239.59C491.65 1239.51 485.42 1239.39 479.2 1239.23C472.98 1239.07 466.78 1238.86 460.61 1238.59C454.45 1238.32 448.31 1237.98 442.23 1237.57C436.15 1237.15 430.12 1236.66 424.16 1236.06C418.2 1235.47 412.3 1234.78 406.5 1233.98C400.69 1233.18 394.97 1232.26 389.35 1231.22C383.73 1230.17 378.12 1229.37 372.88 1227.42C367.65 1225.47 363.01 1209.84 359.63 1213.38" fill="none" stroke="#000" stroke-width="1.33"/>
<path d="M362.51 1205.05L365.3 1193.69L365.8 1200.85L369.08 1196.65L365.8 1200.85L372.86 1199.6L362.51 1205.05Z" fill="#000" stroke="#000" stroke-width="1.33" stroke-miterlimit="10"/>
<circle cx="359.89" cy="1208.42" r="4.12" fill="none" stroke="#000" stroke-width="1.33"/>
<path d="M801 1195.6C807.82 1194.48 812.01 1197.67 814.12 1202.68C816.23 1207.68 816.25 1214.59 814.74 1221.41C813.22 1228.23 810.16 1234.94 806.1 1239.59C802.04 1244.24 796.97 1247 791.34 1248.68C785.72 1250.37 779.54 1250.98 773.26 1251.35C766.99 1251.72 760.68 1251.96 754.45 1252.29C748.22 1252.62 742.04 1252.97 735.9 1253.33C729.75 1253.69 723.64 1254.06 717.55 1254.43C711.47 1254.8 705.41 1255.16 699.37 1255.52C693.33 1255.88 687.31 1256.22 681.29 1256.55C675.28 1256.87 669.27 1257.17 663.26 1257.43C657.25 1257.7 651.24 1257.93 645.21 1258.12C639.19 1258.31 633.15 1258.45 627.09 1258.54C621.04 1258.63 614.96 1258.66 608.85 1258.63C602.74 1258.6 596.61 1258.51 590.45 1258.38C584.3 1258.25 578.13 1258.07 571.95 1257.86C565.76 1257.65 559.56 1257.42 553.36 1257.17C547.16 1256.92 540.95 1256.65 534.75 1256.39C528.54 1256.13 522.34 1255.87 516.14 1255.62C509.95 1255.37 503.76 1255.14 497.59 1254.94C491.42 1254.74 485.26 1254.57 479.13 1254.45C473 1254.32 466.89 1254.24 460.81 1254.22C454.72 1254.21 448.67 1254.26 442.66 1254.26C436.64 1254.25 430.66 1254.18 424.72 1253.92C418.79 1253.66 412.89 1253.2 407.05 1252.42C401.2 1251.63 395.41 1250.51 389.67 1248.92C383.94 1247.34 378.23 1245.31 372.65 1242.63C367.07 1239.95 361.81 1236.29 358.91 1230.68C356.01 1225.07 357.89 1217.99 357.26 1211.78" fill="none" stroke="#000" stroke-width="1.33"/>
<path d="M673.55 1194.55L684.59 1190.7L678.86 1195.02L684.18 1195.48L678.86 1195.02L683.76 1200.27L673.55 1194.55Z" fill="#000" stroke="#000" stroke-width="1.33" stroke-miterlimit="10"/>
<circle cx="669.3" cy="1194.18" r="4.12" fill="none" stroke="#000" stroke-width="1.33"/>
<path d="M258.2 678.3C264.42 678.09 270.57 678.32 276.71 678.9C282.84 679.47 288.92 680.42 294.9 681.72C300.88 683.02 306.76 684.67 312.52 686.63C318.27 688.6 323.9 690.89 329.36 693.47C334.83 696.05 340.14 698.92 345.28 702.06C350.43 705.19 355.41 708.59 360.23 712.23C365.05 715.86 369.7 719.73 374.18 723.8C378.67 727.88 382.98 732.16 387.12 736.61C391.25 741.07 395.22 745.7 399 750.49C402.78 755.27 406.39 760.2 409.81 765.25C413.23 770.3 416.47 775.47 419.52 780.73C422.58 785.99 425.44 791.34 428.12 796.77C430.8 802.19 433.31 807.69 435.67 813.26C438.03 818.82 440.24 824.45 442.32 830.15C444.39 835.84 446.34 841.59 448.18 847.38C450.02 853.18 451.75 859.03 453.39 864.92C455.04 870.8 456.6 876.73 458.1 882.69C459.59 888.64 461.02 894.63 462.41 900.64C463.8 906.65 465.15 912.68 466.48 918.73C467.8 924.77 469.11 930.83 470.42 936.89C471.73 942.96 473.04 949.02 474.37 955.08C475.71 961.14 477.07 967.2 478.47 973.24C479.87 979.28 481.32 985.31 482.84 991.31C484.36 997.31 485.94 1003.29 487.62 1009.24C489.29 1015.19 491.06 1021.11 492.94 1026.98C494.81 1032.86 496.8 1038.69 498.92 1044.47C501.04 1050.26 503.3 1055.99 505.71 1061.66C508.12 1067.34 510.68 1072.95 513.4 1078.48C516.12 1084 519 1089.44 522.04 1094.77C525.08 1100.09 528.28 1105.3 531.64 1110.37C535.01 1115.44 538.54 1120.37 542.24 1125.13C545.93 1129.89 549.8 1134.49 553.83 1138.89C557.87 1143.29 562.08 1147.5 566.46 1151.49C570.85 1155.48 575.41 1159.25 580.14 1162.77C584.88 1166.29 589.8 1169.57 594.9 1172.57C600 1175.57 605.28 1178.3 610.75 1180.73C616.22 1183.16 621.87 1185.29 627.72 1187.1C633.56 1188.91 639.6 1190.38 645.83 1191.51C652.05 1192.64 658.43 1193.41 665.05 1193.81" fill="none" stroke="#000" stroke-width="1.33"/>
<path d="M679.9 1200.93L679.9 1190.27L682.04 1190.27L682.04 1200.93Z" fill="#000" stroke="#000" stroke-width="1.33"/>
<path d="M678.84 1195.6L684.17 1195.6" stroke="#000" stroke-width="1.33"/>
<circle cx="674.57" cy="1195.6" r="4.12" fill="none" stroke="#000" stroke-width="1.33"/>
<path d="M493.4 1195.6C499.95 1195.6 506.5 1195.6 513.06 1195.6C519.61 1195.6 526.16 1195.6 532.71 1195.6C539.26 1195.6 545.82 1195.6 552.37 1195.6C558.92 1195.6 565.47 1195.6 572.02 1195.6C578.58 1195.6 585.13 1195.6 591.68 1195.6C598.23 1195.6 604.78 1195.6 611.34 1195.6C617.89 1195.6 624.44 1195.6 630.99 1195.6C637.54 1195.6 644.1 1195.6 650.65 1195.6C657.2 1195.6 663.75 1195.6 670.3 1195.6" fill="none" stroke="#000" stroke-width="1.33"/>
<path d="M673.57 1196.85L683.68 1190.97L678.87 1196.3L684.18 1195.74L678.87 1196.3L684.68 1200.51L673.57 1196.85Z" fill="#000" stroke="#000" stroke-width="1.33" stroke-miterlimit="10"/>
<circle cx="669.33" cy="1197.3" r="4.12" fill="none" stroke="#000" stroke-width="1.33"/>
<path d="M266.1 1301.1C272.21 1301.28 278.37 1300.48 284.47 1299.14C290.57 1297.8 296.66 1295.98 302.75 1293.93C308.84 1291.88 314.93 1289.59 321.02 1287.29C327.11 1284.99 333.21 1282.67 339.3 1280.57C345.39 1278.48 351.49 1276.64 357.59 1275.08C363.69 1273.52 369.79 1272.21 375.89 1271.08C381.99 1269.95 388.1 1269 394.19 1268.14C400.29 1267.28 406.39 1266.52 412.48 1265.78C418.57 1265.04 424.66 1264.32 430.74 1263.54C436.82 1262.76 442.9 1261.92 448.96 1260.95C455.03 1259.98 461.08 1258.86 467.12 1257.56C473.17 1256.25 479.2 1254.78 485.23 1253.17C491.26 1251.55 497.28 1249.8 503.29 1247.95C509.3 1246.09 515.3 1244.12 521.3 1242.08C527.3 1240.03 533.3 1237.91 539.29 1235.74C545.28 1233.57 551.26 1231.36 557.25 1229.12C563.23 1226.89 569.21 1224.64 575.2 1222.41C581.18 1220.17 587.16 1217.95 593.14 1215.77C599.12 1213.59 605.11 1211.46 611.09 1209.4C617.08 1207.34 623.06 1205.34 629.05 1203.58C635.05 1201.82 641.04 1200.32 647.04 1199.28C653.04 1198.24 659.07 1197.63 665.08 1197.75" fill="none" stroke="#000" stroke-width="1.33"/>
<path d="M674.03 1199.11L682.82 1191.4L679.13 1197.55L684.23 1195.99L679.13 1197.55L685.63 1200.58L674.03 1199.11Z" fill="#000" stroke="#000" stroke-width="1.33" stroke-miterlimit="10"/>
<circle cx="669.95" cy="1200.35" r="4.12" fill="none" stroke="#000" stroke-width="1.33"/>
<path d="M513.5 1336.9C519.92 1337.17 525.95 1336.02 531.66 1333.83C537.37 1331.64 542.75 1328.45 547.87 1324.71C552.99 1320.97 557.85 1316.72 562.5 1312.26C567.15 1307.81 571.59 1303.1 575.9 1298.25C580.2 1293.41 584.36 1288.42 588.43 1283.41C592.51 1278.4 596.5 1273.38 600.47 1268.41C604.44 1263.44 608.38 1258.51 612.37 1253.67C616.35 1248.83 620.37 1244.07 624.49 1239.42C628.61 1234.77 632.83 1230.24 637.21 1225.85C641.59 1221.47 646.13 1217.23 650.88 1213.18C655.64 1209.12 660.61 1205.26 665.87 1201.6" fill="none" stroke="#000" stroke-width="1.33"/>
<path d="M345.36 1341.73L346.29 1331.1L348.41 1331.29L347.49 1341.91Z" fill="#000" stroke="#000" stroke-width="1.33"/>
<path d="M344.76 1336.32L350.08 1336.78" stroke="#000" stroke-width="1.33"/>
<circle cx="340.51" cy="1335.95" r="4.12" fill="none" stroke="#000" stroke-width="1.33"/>
<path d="M266.1 1301.1C272.94 1300.68 279.3 1301.87 285.36 1304.06C291.42 1306.26 297.18 1309.47 302.8 1313.11C308.43 1316.76 313.91 1320.84 319.43 1324.78C324.95 1328.72 330.51 1332.51 336.26 1335.58" fill="none" stroke="#000" stroke-width="1.33"/>
<text x="16" y="1510.6" textLength="190">Generated by SchemaSpy</text>
</svg>
</body></html>
